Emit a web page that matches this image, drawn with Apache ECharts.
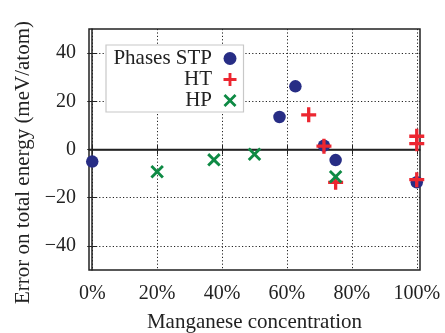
<!DOCTYPE html>
<html><head><meta charset="utf-8">
<script src="https://cdn.jsdelivr.net/npm/echarts@6/dist/echarts.min.js"></script>
<style>html,body{margin:0;padding:0;background:#fff}#c{width:445px;height:333px}</style>
</head><body><div id="c"></div>
<script>
var seriesNames = ['Phases STP', 'HT', 'HP'];
var stpX = [0, 57.7, 62.6, 71.4, 75, 100];
var stpY = [-5, 13.5, 26.2, 1.6, -4.4, -13.6];
var htX = [66.7, 71.4, 75, 100, 100, 100];
var htY = [14.4, 1.4, -13.6, 5.5, 2.4, -12.5];
var hpX = [20, 37.5, 50, 75];
var hpY = [-9.2, -4.3, -2.0, -11.3];
var xTicks = [0, 20, 40, 60, 80, 100];
var yTicks = [-40, -20, 0, 20, 40];
var xTitle = 'Manganese concentration';
var yTitle = 'Error on total energy (meV/atom)';

function pairs(xs, ys) { return xs.map(function (x, i) { return [x, ys[i]]; }); }

var FONT = '"Liberation Serif", "DejaVu Serif", serif';
var PLUS = 'path://M3.9,0H6.1V3.9H10V6.1H6.1V10H3.9V6.1H0V3.9H3.9Z';
var CROSS = 'path://M0,1.5L1.5,0L5,3.5L8.5,0L10,1.5L6.5,5L10,8.5L8.5,10L5,6.5L1.5,10L0,8.5L3.5,5Z';

var chart = echarts.init(document.getElementById('c'), null, {renderer: 'canvas'});
var dotted = {show: true, lineStyle: {color: '#222', width: 1, type: [1.2, 2.2]}};
chart.setOption({
  animation: false,
  grid: {left: 89, right: 25, top: 29, bottom: 63, containLabel: false, outerBoundsMode: 'none',
    show: true, borderColor: '#222', borderWidth: 1.5, backgroundColor: 'transparent'},
  legend: {
    orient: 'vertical', left: 106, top: 45, align: 'right',
    padding: [3, 7, 1, 6], itemGap: 0, itemWidth: 26, itemHeight: 13,
    backgroundColor: '#fff', borderColor: '#c8c8c8', borderWidth: 1.2, borderRadius: 0,
    textStyle: {fontFamily: FONT, fontSize: 21, color: '#222', width: 100, align: 'right', lineHeight: 20.5},
    data: seriesNames
  },
  xAxis: [{
    type: 'value', position: 'bottom', min: -1, max: 101,
    name: xTitle, nameLocation: 'middle', nameGap: 42,
    nameTextStyle: {fontFamily: FONT, fontSize: 21, color: '#222'},
    axisLine: {show: true, lineStyle: {color: '#222', width: 1.5}},
    axisTick: {show: true, inside: true, length: 5, customValues: xTicks, lineStyle: {color: '#222', width: 1}},
    axisLabel: {customValues: xTicks, margin: 14, fontFamily: FONT, fontSize: 20, color: '#222', formatter: '{value}%'},
    splitLine: dotted
  }, {
    type: 'value', position: 'top', min: -1, max: 101,
    axisLine: {show: false},
    axisTick: {show: true, inside: true, length: 5, customValues: xTicks, lineStyle: {color: '#222', width: 1}},
    axisLabel: {show: false}, splitLine: {show: false}
  }],
  yAxis: [{
    type: 'value', position: 'left', min: -50, max: 50,
    name: yTitle, nameLocation: 'middle', nameGap: 53,
    nameTextStyle: {fontFamily: FONT, fontSize: 21, color: '#222', padding: [0, 26, 0, 0]},
    axisLine: {show: true, lineStyle: {color: '#222', width: 1.5}},
    axisTick: {show: true, inside: true, length: 5, customValues: yTicks, lineStyle: {color: '#222', width: 1}},
    axisLabel: {customValues: yTicks, margin: 13, fontFamily: FONT, fontSize: 20, color: '#222',
      formatter: function (v) { return String(v).replace('-', '\u2212'); }},
    splitLine: dotted
  }, {
    type: 'value', position: 'right', min: -50, max: 50,
    axisLine: {show: false},
    axisTick: {show: true, inside: true, length: 5, customValues: yTicks, lineStyle: {color: '#222', width: 1}},
    axisLabel: {show: false}, splitLine: {show: false}
  }],
  series: [{
    name: seriesNames[0], type: 'scatter', z: 6, symbol: 'circle', symbolSize: 12.5,
    itemStyle: {color: '#272d85', opacity: 1},
    data: pairs(stpX, stpY),
    markLine: {silent: true, symbol: 'none', z: 3, label: {show: false},
      lineStyle: {color: '#222', width: 1.3, type: 'solid'}, data: [{yAxis: 0}]}
  }, {
    name: seriesNames[1], type: 'scatter', z: 7, symbol: PLUS, symbolSize: 15,
    itemStyle: {color: '#ec2630', opacity: 1},
    data: pairs(htX, htY)
  }, {
    name: seriesNames[2], type: 'scatter', z: 8, symbol: CROSS, symbolSize: 13.5,
    itemStyle: {color: '#0e8a44', opacity: 1},
    data: pairs(hpX, hpY)
  }]
});
</script></body></html>
